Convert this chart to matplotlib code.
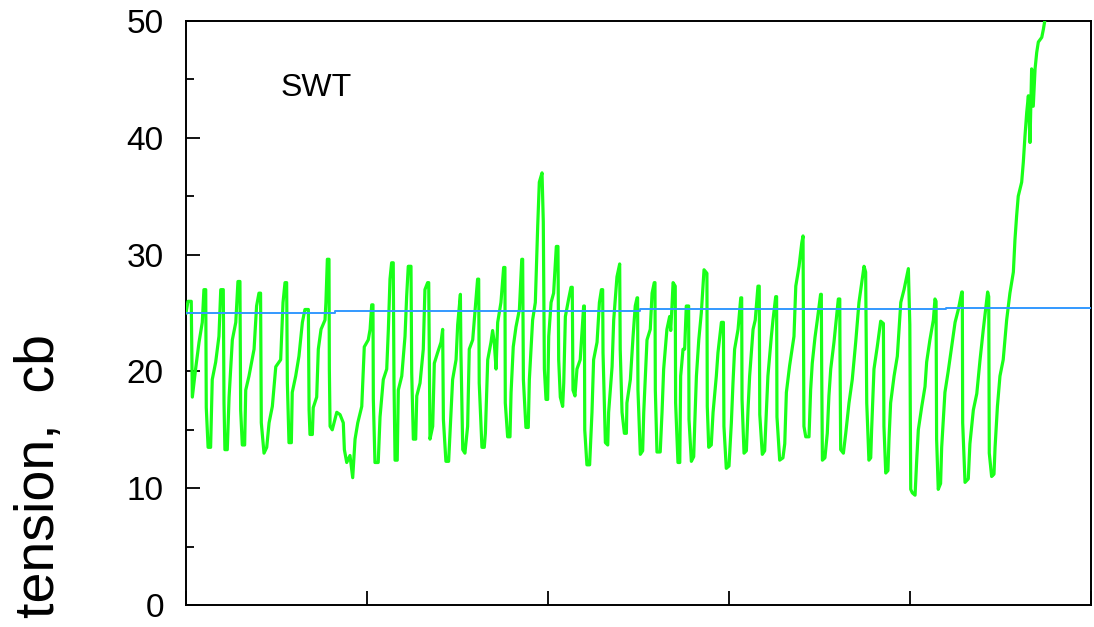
import numpy as np
import matplotlib
matplotlib.use("Agg")
import matplotlib.pyplot as plt
from matplotlib.ticker import MultipleLocator

plt.rcParams['font.family'] = ['Liberation Sans', 'DejaVu Sans']

# soil water tension readings (day, cb)
day = [0.00, 0.11, 0.29, 0.35, 0.53, 0.72, 0.90, 0.99, 1.09, 1.12, 1.22, 1.36,
       1.45, 1.64, 1.82, 1.92, 2.06, 2.10, 2.15, 2.28, 2.38, 2.56, 2.75, 2.87,
       2.98, 3.02, 3.11, 3.24, 3.30, 3.48, 3.76, 3.90, 4.03, 4.12, 4.16, 4.31,
       4.46, 4.59, 4.77, 4.96, 5.23, 5.36, 5.47, 5.56, 5.60, 5.69, 5.82, 5.87,
       6.06, 6.24, 6.43, 6.57, 6.76, 6.80, 6.85, 6.98, 7.03, 7.22, 7.31, 7.46,
       7.68, 7.73, 7.81, 7.90, 7.92, 7.96, 8.08, 8.33, 8.51, 8.69, 8.75, 8.88,
       9.06, 9.21, 9.34, 9.49, 9.71, 9.85, 10.07, 10.17, 10.26, 10.33, 10.35, 10.44,
       10.62, 10.72, 10.90, 11.09, 11.18, 11.27, 11.36, 11.45, 11.49, 11.55, 11.67, 11.73,
       11.92, 12.10, 12.19, 12.28, 12.43, 12.47, 12.56, 12.69, 12.75, 12.93, 13.11, 13.20,
       13.35, 13.41, 13.44, 13.48, 13.63, 13.72, 13.90, 14.09, 14.18, 14.22, 14.36, 14.51,
       14.64, 14.73, 14.92, 15.01, 15.16, 15.19, 15.29, 15.41, 15.56, 15.65, 15.84, 16.02,
       16.11, 16.17, 16.20, 16.35, 16.48, 16.54, 16.67, 16.85, 16.94, 17.03, 17.13, 17.22,
       17.40, 17.55, 17.62, 17.64, 17.77, 17.90, 17.96, 18.08, 18.23, 18.42, 18.55, 18.60,
       18.64, 18.78, 18.91, 18.97, 19.15, 19.30, 19.43, 19.52, 19.67, 19.74, 19.80, 19.89,
       19.98, 20.04, 20.17, 20.31, 20.46, 20.55, 20.59, 20.68, 20.81, 20.87, 20.96, 21.14,
       21.27, 21.34, 21.38, 21.49, 21.60, 21.78, 21.97, 22.01, 22.03, 22.15, 22.30, 22.43,
       22.52, 22.71, 22.84, 22.95, 23.02, 23.04, 23.17, 23.30, 23.35, 23.54, 23.63, 23.81,
       23.96, 23.99, 24.09, 24.22, 24.33, 24.36, 24.55, 24.70, 24.82, 24.92, 24.95, 24.97,
       25.10, 25.23, 25.29, 25.38, 25.47, 25.65, 25.75, 25.87, 25.91, 25.93, 26.02, 26.20,
       26.30, 26.39, 26.48, 26.57, 26.72, 26.78, 26.85, 26.91, 27.03, 27.05, 27.18, 27.28,
       27.33, 27.46, 27.55, 27.64, 27.77, 27.79, 27.92, 28.05, 28.11, 28.20, 28.33, 28.47,
       28.62, 28.78, 28.80, 28.88, 29.02, 29.12, 29.30, 29.39, 29.58, 29.69, 29.72, 29.85,
       30.00, 30.13, 30.22, 30.31, 30.50, 30.65, 30.70, 30.72, 30.83, 30.96, 31.05, 31.14,
       31.33, 31.45, 31.60, 31.67, 31.70, 31.84, 31.97, 32.06, 32.15, 32.34, 32.43, 32.58,
       32.63, 32.65, 32.80, 32.98, 33.08, 33.17, 33.35, 33.59, 33.69, 33.87, 34.02, 34.09,
       34.14, 34.24, 34.42, 34.51, 34.60, 34.75, 34.88, 35.06, 35.10, 35.12, 35.16, 35.30,
       35.43, 35.52, 35.62, 35.80, 36.04, 36.12, 36.13, 36.17, 36.32, 36.45, 36.63, 36.81,
       37.00, 37.18, 37.46, 37.55, 37.61, 37.73, 37.83, 37.88, 38.01, 38.19, 38.38, 38.53,
       38.56, 38.66, 38.78, 38.84, 38.93, 39.12, 39.30, 39.49, 39.67, 39.91, 39.99, 40.04,
       40.13, 40.28, 40.37, 40.46, 40.65, 40.83, 40.92, 41.10, 41.29, 41.38, 41.44, 41.47,
       41.56, 41.69, 41.75, 41.93, 42.11, 42.30, 42.49, 42.67, 42.86, 42.89, 42.91, 43.04,
       43.22, 43.31, 43.50, 43.69, 43.87, 44.05, 44.29, 44.35, 44.38, 44.51, 44.64, 44.70,
       44.83, 44.97, 45.15, 45.34, 45.52, 45.71, 45.80, 45.89, 45.98, 46.17, 46.26, 46.35,
       46.45, 46.54, 46.63, 46.72, 46.81, 46.91, 47.00, 47.09, 47.28, 47.37, 47.55]

tension = [25.0, 26.0, 26.0, 17.8, 20.2, 22.5, 24.2, 27.0, 27.0, 16.9, 13.5, 13.5,
           19.3, 20.8, 23.0, 27.0, 27.0, 17.3, 13.3, 13.3, 17.8, 22.7, 24.2, 27.7,
           27.7, 16.7, 13.7, 13.7, 18.4, 19.6, 21.9, 25.6, 26.7, 26.7, 15.6, 13.0,
           13.5, 15.6, 17.0, 20.4, 21.0, 25.9, 27.6, 27.6, 19.0, 13.9, 13.9, 18.2,
           19.6, 21.3, 24.2, 25.3, 25.3, 16.7, 14.6, 14.6, 16.9, 17.8, 21.9, 23.6,
           24.4, 25.9, 29.6, 29.6, 20.2, 15.3, 15.0, 16.5, 16.3, 15.6, 13.3, 12.2,
           12.8, 10.9, 14.2, 15.6, 17.0, 22.1, 22.7, 23.6, 25.7, 25.7, 17.6, 12.2,
           12.2, 16.1, 19.3, 20.2, 23.6, 27.9, 29.3, 29.3, 19.3, 12.4, 12.4, 18.4,
           19.6, 23.0, 26.4, 29.0, 29.0, 19.9, 14.2, 14.2, 17.9, 19.0, 21.9, 27.0,
           27.6, 27.6, 21.6, 14.2, 15.3, 20.7, 21.6, 22.5, 23.6, 15.9, 12.3, 12.3,
           16.5, 19.3, 21.0, 24.0, 26.6, 21.6, 13.3, 13.0, 15.3, 21.9, 22.7, 26.2,
           27.9, 27.9, 19.0, 13.5, 13.5, 14.7, 21.0, 22.5, 23.5, 22.5, 20.2, 24.2,
           25.9, 28.9, 28.9, 17.3, 14.4, 14.4, 18.2, 22.1, 23.8, 25.3, 29.6, 29.6,
           19.3, 15.2, 15.2, 19.3, 24.4, 25.9, 32.4, 36.2, 37.0, 32.8, 20.2, 17.6,
           17.6, 23.0, 25.9, 26.7, 30.7, 30.7, 21.0, 17.8, 17.0, 19.0, 24.7, 26.2,
           27.2, 27.2, 18.4, 17.9, 20.2, 21.0, 25.6, 25.6, 15.0, 12.0, 12.0, 16.5,
           21.0, 22.5, 25.9, 27.0, 27.0, 21.6, 13.9, 13.7, 16.5, 20.4, 24.4, 28.1,
           29.2, 21.9, 16.5, 14.7, 14.7, 17.3, 19.3, 23.0, 25.6, 26.3, 26.3, 18.4,
           12.9, 13.2, 16.5, 19.6, 22.7, 23.6, 26.7, 27.6, 27.6, 18.4, 13.1, 13.1,
           16.5, 20.2, 21.9, 23.6, 24.7, 23.5, 25.6, 27.6, 27.3, 17.3, 12.2, 12.2,
           19.6, 21.9, 21.9, 25.6, 25.6, 15.9, 12.3, 12.7, 15.6, 19.6, 22.7, 25.0,
           28.7, 28.4, 17.0, 13.5, 13.7, 16.5, 19.6, 21.6, 24.2, 24.2, 15.3, 11.7,
           11.9, 15.6, 19.0, 21.9, 23.6, 26.3, 26.3, 17.6, 13.0, 13.2, 16.7, 19.6,
           23.6, 24.4, 27.3, 27.3, 16.3, 12.9, 13.2, 16.5, 19.6, 23.0, 24.4, 26.4,
           26.4, 16.1, 12.4, 12.6, 13.8, 18.2, 20.5, 23.0, 27.3, 29.0, 31.0, 31.6,
           15.3, 14.4, 14.4, 18.4, 20.7, 22.9, 24.4, 26.6, 26.6, 20.4, 12.4, 12.6,
           14.7, 17.9, 20.2, 22.5, 26.2, 26.2, 22.2, 13.3, 13.0, 14.7, 17.3, 19.3,
           22.5, 25.9, 29.0, 28.5, 17.3, 12.4, 12.6, 15.0, 20.2, 22.1, 24.3, 24.1,
           15.3, 11.3, 11.5, 14.2, 17.3, 19.6, 21.3, 25.9, 27.0, 28.8, 24.0, 9.9,
           9.6, 9.4, 12.4, 15.0, 17.0, 18.7, 20.8, 22.7, 24.4, 26.2, 26.0, 14.2,
           9.9, 10.4, 13.5, 18.2, 20.0, 22.1, 24.2, 25.3, 26.8, 26.8, 15.6, 10.5,
           10.8, 13.8, 16.7, 18.1, 21.0, 23.6, 26.8, 26.4, 13.0, 11.0, 11.2, 13.5,
           17.0, 19.6, 21.0, 24.4, 26.7, 28.5, 31.3, 33.3, 35.0, 36.2, 37.9, 40.1,
           42.2, 43.6, 39.6, 45.9, 42.7, 45.9, 47.3, 48.2, 48.6, 49.3, 51.0]

# irrigation threshold (stepped)
thr_day = [0, 8.23, 25.08, 41.99, 50]
thr_val = [25.0, 25.15, 25.3, 25.45, 25.45]

fig = plt.figure(figsize=(10.94, 6.27), dpi=100)
ax = fig.add_axes([186 / 1094, 1 - 605 / 627, 905 / 1094, 584 / 627])

ax.plot(day, tension, color='#19ff19', lw=2.3, zorder=3)
ax.plot(thr_day, thr_val, color='#3399ff', lw=1.4, drawstyle='steps-post', zorder=4)

ax.set_xlim(0, 50)
ax.set_ylim(0, 50)
ax.xaxis.set_major_locator(MultipleLocator(10))
ax.yaxis.set_major_locator(MultipleLocator(10))
ax.yaxis.set_minor_locator(MultipleLocator(5))
ax.set_xticklabels([])
ax.tick_params(axis='both', which='major', direction='in', length=10, width=1.3,
               labelsize=24, pad=16)
ax.tick_params(axis='y', which='minor', direction='in', length=6, width=1.3)
for s in ax.spines.values():
    s.set_linewidth(1.4)

ax.text(0.104, 0.885, 'SWT', transform=ax.transAxes, fontsize=23, va='center', ha='left')
fig.text(40 / 1094, 1 - 476 / 627, 'tension,  cb', rotation=90, fontsize=40,
         ha='center', va='center')

fig.savefig('out.png', dpi=100)
